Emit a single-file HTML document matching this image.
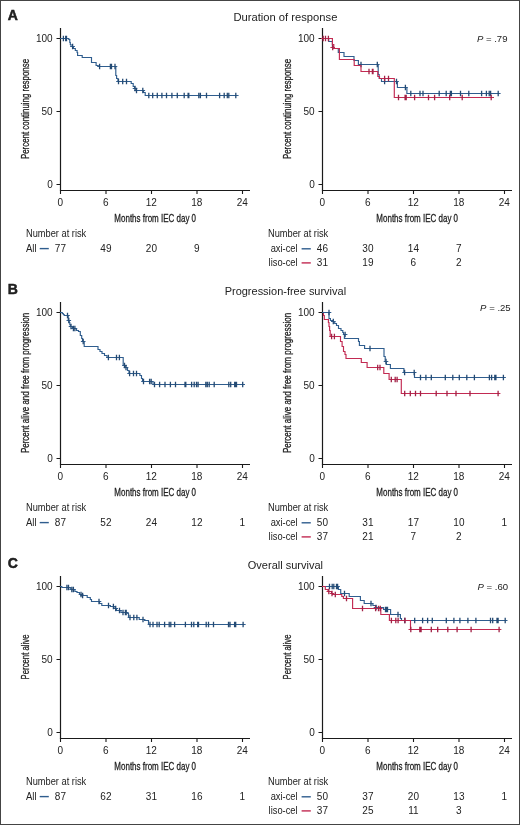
<!DOCTYPE html><html><head><meta charset="utf-8"><title>Kaplan-Meier curves</title><style>html,body{margin:0;padding:0;background:#fff}svg{display:block;will-change:transform}text{font-family:"Liberation Sans",sans-serif;fill:#222}</style></head><body>
<svg width="520" height="825" viewBox="0 0 520 825">
<rect x="0" y="0" width="520" height="825" fill="#fff"/>
<rect x="0.5" y="0.5" width="519" height="824" fill="none" stroke="#444" stroke-width="1"/>
<text x="7.8" y="19.7" font-size="14" font-weight="bold" stroke="#111" stroke-width="0.45">A</text>
<text x="285.4" y="20.7" font-size="11.2" text-anchor="middle" textLength="104" lengthAdjust="spacingAndGlyphs">Duration of response</text>
<path d="M60.5 28V191M60 190.5H250" stroke="#1a1a1a" stroke-width="1.2" fill="none"/>
<path d="M56.5 38.5H60M56.5 111.5H60M56.5 184.5H60M60.5 190V194M106.0 190V194M151.5 190V194M197.0 190V194M242.5 190V194" stroke="#1a1a1a" stroke-width="1.1" fill="none"/>
<text x="52.7" y="41.6" font-size="10" text-anchor="end">100</text>
<text x="52.7" y="114.6" font-size="10" text-anchor="end">50</text>
<text x="52.7" y="187.6" font-size="10" text-anchor="end">0</text>
<text x="60.2" y="205.7" font-size="10" text-anchor="middle">0</text>
<text x="105.7" y="205.7" font-size="10" text-anchor="middle">6</text>
<text x="151.2" y="205.7" font-size="10" text-anchor="middle">12</text>
<text x="196.7" y="205.7" font-size="10" text-anchor="middle">18</text>
<text x="242.2" y="205.7" font-size="10" text-anchor="middle">24</text>
<text x="155.2" y="222" font-size="11.3" text-anchor="middle" textLength="81.7" lengthAdjust="spacingAndGlyphs" stroke="#222" stroke-width="0.3">Months from IEC day 0</text>
<text transform="translate(29 109.0) rotate(-90)" x="0" y="0" font-size="11.5" text-anchor="middle" stroke="#222" stroke-width="0.3" textLength="100.2" lengthAdjust="spacingAndGlyphs">Percent continuing response</text>
<path d="M322.5 28V191M322 190.5H512" stroke="#1a1a1a" stroke-width="1.2" fill="none"/>
<path d="M318.5 38.5H322M318.5 111.5H322M318.5 184.5H322M322.5 190V194M368.0 190V194M413.5 190V194M459.0 190V194M504.5 190V194" stroke="#1a1a1a" stroke-width="1.1" fill="none"/>
<text x="314.7" y="41.6" font-size="10" text-anchor="end">100</text>
<text x="314.7" y="114.6" font-size="10" text-anchor="end">50</text>
<text x="314.7" y="187.6" font-size="10" text-anchor="end">0</text>
<text x="322.2" y="205.7" font-size="10" text-anchor="middle">0</text>
<text x="367.7" y="205.7" font-size="10" text-anchor="middle">6</text>
<text x="413.2" y="205.7" font-size="10" text-anchor="middle">12</text>
<text x="458.7" y="205.7" font-size="10" text-anchor="middle">18</text>
<text x="504.2" y="205.7" font-size="10" text-anchor="middle">24</text>
<text x="417.2" y="222" font-size="11.3" text-anchor="middle" textLength="81.7" lengthAdjust="spacingAndGlyphs" stroke="#222" stroke-width="0.3">Months from IEC day 0</text>
<text transform="translate(291 109.0) rotate(-90)" x="0" y="0" font-size="11.5" text-anchor="middle" stroke="#222" stroke-width="0.3" textLength="100.2" lengthAdjust="spacingAndGlyphs">Percent continuing response</text>
<text x="476.9" y="42.3" font-size="9.8" textLength="30.6" lengthAdjust="spacingAndGlyphs"><tspan font-style="italic">P</tspan> = .79</text>
<text x="7.8" y="294.4" font-size="14" font-weight="bold" stroke="#111" stroke-width="0.45">B</text>
<text x="285.4" y="295.4" font-size="11.2" text-anchor="middle" textLength="121.4" lengthAdjust="spacingAndGlyphs">Progression-free survival</text>
<path d="M60.5 302V465M60 464.5H250" stroke="#1a1a1a" stroke-width="1.2" fill="none"/>
<path d="M56.5 312.5H60M56.5 385.5H60M56.5 458.5H60M60.5 464V468M106.0 464V468M151.5 464V468M197.0 464V468M242.5 464V468" stroke="#1a1a1a" stroke-width="1.1" fill="none"/>
<text x="52.7" y="315.6" font-size="10" text-anchor="end">100</text>
<text x="52.7" y="388.6" font-size="10" text-anchor="end">50</text>
<text x="52.7" y="461.6" font-size="10" text-anchor="end">0</text>
<text x="60.2" y="479.7" font-size="10" text-anchor="middle">0</text>
<text x="105.7" y="479.7" font-size="10" text-anchor="middle">6</text>
<text x="151.2" y="479.7" font-size="10" text-anchor="middle">12</text>
<text x="196.7" y="479.7" font-size="10" text-anchor="middle">18</text>
<text x="242.2" y="479.7" font-size="10" text-anchor="middle">24</text>
<text x="155.2" y="496" font-size="11.3" text-anchor="middle" textLength="81.7" lengthAdjust="spacingAndGlyphs" stroke="#222" stroke-width="0.3">Months from IEC day 0</text>
<text transform="translate(29 383.0) rotate(-90)" x="0" y="0" font-size="11.5" text-anchor="middle" stroke="#222" stroke-width="0.3" textLength="140.2" lengthAdjust="spacingAndGlyphs">Percent alive and free from progression</text>
<path d="M322.5 302V465M322 464.5H512" stroke="#1a1a1a" stroke-width="1.2" fill="none"/>
<path d="M318.5 312.5H322M318.5 385.5H322M318.5 458.5H322M322.5 464V468M368.0 464V468M413.5 464V468M459.0 464V468M504.5 464V468" stroke="#1a1a1a" stroke-width="1.1" fill="none"/>
<text x="314.7" y="315.6" font-size="10" text-anchor="end">100</text>
<text x="314.7" y="388.6" font-size="10" text-anchor="end">50</text>
<text x="314.7" y="461.6" font-size="10" text-anchor="end">0</text>
<text x="322.2" y="479.7" font-size="10" text-anchor="middle">0</text>
<text x="367.7" y="479.7" font-size="10" text-anchor="middle">6</text>
<text x="413.2" y="479.7" font-size="10" text-anchor="middle">12</text>
<text x="458.7" y="479.7" font-size="10" text-anchor="middle">18</text>
<text x="504.2" y="479.7" font-size="10" text-anchor="middle">24</text>
<text x="417.2" y="496" font-size="11.3" text-anchor="middle" textLength="81.7" lengthAdjust="spacingAndGlyphs" stroke="#222" stroke-width="0.3">Months from IEC day 0</text>
<text transform="translate(291 383.0) rotate(-90)" x="0" y="0" font-size="11.5" text-anchor="middle" stroke="#222" stroke-width="0.3" textLength="140.2" lengthAdjust="spacingAndGlyphs">Percent alive and free from progression</text>
<text x="480.1" y="311.1" font-size="9.8" textLength="30.6" lengthAdjust="spacingAndGlyphs"><tspan font-style="italic">P</tspan> = .25</text>
<text x="7.8" y="568.2" font-size="14" font-weight="bold" stroke="#111" stroke-width="0.45">C</text>
<text x="285.4" y="569.2" font-size="11.2" text-anchor="middle" textLength="75.2" lengthAdjust="spacingAndGlyphs">Overall survival</text>
<path d="M60.5 576V739M60 738.5H250" stroke="#1a1a1a" stroke-width="1.2" fill="none"/>
<path d="M56.5 586.5H60M56.5 659.5H60M56.5 732.5H60M60.5 738V742M106.0 738V742M151.5 738V742M197.0 738V742M242.5 738V742" stroke="#1a1a1a" stroke-width="1.1" fill="none"/>
<text x="52.7" y="589.6" font-size="10" text-anchor="end">100</text>
<text x="52.7" y="662.6" font-size="10" text-anchor="end">50</text>
<text x="52.7" y="735.6" font-size="10" text-anchor="end">0</text>
<text x="60.2" y="753.7" font-size="10" text-anchor="middle">0</text>
<text x="105.7" y="753.7" font-size="10" text-anchor="middle">6</text>
<text x="151.2" y="753.7" font-size="10" text-anchor="middle">12</text>
<text x="196.7" y="753.7" font-size="10" text-anchor="middle">18</text>
<text x="242.2" y="753.7" font-size="10" text-anchor="middle">24</text>
<text x="155.2" y="770" font-size="11.3" text-anchor="middle" textLength="81.7" lengthAdjust="spacingAndGlyphs" stroke="#222" stroke-width="0.3">Months from IEC day 0</text>
<text transform="translate(29 657.0) rotate(-90)" x="0" y="0" font-size="11.5" text-anchor="middle" stroke="#222" stroke-width="0.3" textLength="44.9" lengthAdjust="spacingAndGlyphs">Percent alive</text>
<path d="M322.5 576V739M322 738.5H512" stroke="#1a1a1a" stroke-width="1.2" fill="none"/>
<path d="M318.5 586.5H322M318.5 659.5H322M318.5 732.5H322M322.5 738V742M368.0 738V742M413.5 738V742M459.0 738V742M504.5 738V742" stroke="#1a1a1a" stroke-width="1.1" fill="none"/>
<text x="314.7" y="589.6" font-size="10" text-anchor="end">100</text>
<text x="314.7" y="662.6" font-size="10" text-anchor="end">50</text>
<text x="314.7" y="735.6" font-size="10" text-anchor="end">0</text>
<text x="322.2" y="753.7" font-size="10" text-anchor="middle">0</text>
<text x="367.7" y="753.7" font-size="10" text-anchor="middle">6</text>
<text x="413.2" y="753.7" font-size="10" text-anchor="middle">12</text>
<text x="458.7" y="753.7" font-size="10" text-anchor="middle">18</text>
<text x="504.2" y="753.7" font-size="10" text-anchor="middle">24</text>
<text x="417.2" y="770" font-size="11.3" text-anchor="middle" textLength="81.7" lengthAdjust="spacingAndGlyphs" stroke="#222" stroke-width="0.3">Months from IEC day 0</text>
<text transform="translate(291 657.0) rotate(-90)" x="0" y="0" font-size="11.5" text-anchor="middle" stroke="#222" stroke-width="0.3" textLength="44.9" lengthAdjust="spacingAndGlyphs">Percent alive</text>
<text x="477.5" y="590.3" font-size="9.8" textLength="30.6" lengthAdjust="spacingAndGlyphs"><tspan font-style="italic">P</tspan> = .60</text>
<text x="26" y="237" font-size="10" textLength="60.2" lengthAdjust="spacingAndGlyphs">Number at risk</text>
<text x="26" y="251.6" font-size="10" textLength="10.6" lengthAdjust="spacingAndGlyphs">All</text>
<path d="M39.7 248.6H48.8" stroke="#2f5d8e" stroke-width="1.4"/>
<text x="60.4" y="251.6" font-size="10" text-anchor="middle">77</text>
<text x="105.9" y="251.6" font-size="10" text-anchor="middle">49</text>
<text x="151.4" y="251.6" font-size="10" text-anchor="middle">20</text>
<text x="196.9" y="251.6" font-size="10" text-anchor="middle">9</text>
<text x="26" y="511" font-size="10" textLength="60.2" lengthAdjust="spacingAndGlyphs">Number at risk</text>
<text x="26" y="525.6" font-size="10" textLength="10.6" lengthAdjust="spacingAndGlyphs">All</text>
<path d="M39.7 522.6H48.8" stroke="#2f5d8e" stroke-width="1.4"/>
<text x="60.4" y="525.6" font-size="10" text-anchor="middle">87</text>
<text x="105.9" y="525.6" font-size="10" text-anchor="middle">52</text>
<text x="151.4" y="525.6" font-size="10" text-anchor="middle">24</text>
<text x="196.9" y="525.6" font-size="10" text-anchor="middle">12</text>
<text x="242.4" y="525.6" font-size="10" text-anchor="middle">1</text>
<text x="26" y="785" font-size="10" textLength="60.2" lengthAdjust="spacingAndGlyphs">Number at risk</text>
<text x="26" y="799.6" font-size="10" textLength="10.6" lengthAdjust="spacingAndGlyphs">All</text>
<path d="M39.7 796.6H48.8" stroke="#2f5d8e" stroke-width="1.4"/>
<text x="60.4" y="799.6" font-size="10" text-anchor="middle">87</text>
<text x="105.9" y="799.6" font-size="10" text-anchor="middle">62</text>
<text x="151.4" y="799.6" font-size="10" text-anchor="middle">31</text>
<text x="196.9" y="799.6" font-size="10" text-anchor="middle">16</text>
<text x="242.4" y="799.6" font-size="10" text-anchor="middle">1</text>
<text x="268" y="237" font-size="10" textLength="60.2" lengthAdjust="spacingAndGlyphs">Number at risk</text>
<text x="297.6" y="251.6" font-size="10" text-anchor="end" textLength="26.9" lengthAdjust="spacingAndGlyphs">axi-cel</text>
<text x="297.6" y="265.9" font-size="10" text-anchor="end" textLength="29.0" lengthAdjust="spacingAndGlyphs">liso-cel</text>
<path d="M301.6 248.8H310.8" stroke="#2f5d8e" stroke-width="1.4"/>
<path d="M301.6 262.9H310.8" stroke="#c22a52" stroke-width="1.4"/>
<text x="322.4" y="251.6" font-size="10" text-anchor="middle">46</text>
<text x="367.9" y="251.6" font-size="10" text-anchor="middle">30</text>
<text x="413.4" y="251.6" font-size="10" text-anchor="middle">14</text>
<text x="458.9" y="251.6" font-size="10" text-anchor="middle">7</text>
<text x="322.4" y="265.9" font-size="10" text-anchor="middle">31</text>
<text x="367.9" y="265.9" font-size="10" text-anchor="middle">19</text>
<text x="413.4" y="265.9" font-size="10" text-anchor="middle">6</text>
<text x="458.9" y="265.9" font-size="10" text-anchor="middle">2</text>
<text x="268" y="511" font-size="10" textLength="60.2" lengthAdjust="spacingAndGlyphs">Number at risk</text>
<text x="297.6" y="525.6" font-size="10" text-anchor="end" textLength="26.9" lengthAdjust="spacingAndGlyphs">axi-cel</text>
<text x="297.6" y="539.9" font-size="10" text-anchor="end" textLength="29.0" lengthAdjust="spacingAndGlyphs">liso-cel</text>
<path d="M301.6 522.8H310.8" stroke="#2f5d8e" stroke-width="1.4"/>
<path d="M301.6 536.9H310.8" stroke="#c22a52" stroke-width="1.4"/>
<text x="322.4" y="525.6" font-size="10" text-anchor="middle">50</text>
<text x="367.9" y="525.6" font-size="10" text-anchor="middle">31</text>
<text x="413.4" y="525.6" font-size="10" text-anchor="middle">17</text>
<text x="458.9" y="525.6" font-size="10" text-anchor="middle">10</text>
<text x="504.4" y="525.6" font-size="10" text-anchor="middle">1</text>
<text x="322.4" y="539.9" font-size="10" text-anchor="middle">37</text>
<text x="367.9" y="539.9" font-size="10" text-anchor="middle">21</text>
<text x="413.4" y="539.9" font-size="10" text-anchor="middle">7</text>
<text x="458.9" y="539.9" font-size="10" text-anchor="middle">2</text>
<text x="268" y="785" font-size="10" textLength="60.2" lengthAdjust="spacingAndGlyphs">Number at risk</text>
<text x="297.6" y="799.6" font-size="10" text-anchor="end" textLength="26.9" lengthAdjust="spacingAndGlyphs">axi-cel</text>
<text x="297.6" y="813.9" font-size="10" text-anchor="end" textLength="29.0" lengthAdjust="spacingAndGlyphs">liso-cel</text>
<path d="M301.6 796.8H310.8" stroke="#2f5d8e" stroke-width="1.4"/>
<path d="M301.6 810.9H310.8" stroke="#c22a52" stroke-width="1.4"/>
<text x="322.4" y="799.6" font-size="10" text-anchor="middle">50</text>
<text x="367.9" y="799.6" font-size="10" text-anchor="middle">37</text>
<text x="413.4" y="799.6" font-size="10" text-anchor="middle">20</text>
<text x="458.9" y="799.6" font-size="10" text-anchor="middle">13</text>
<text x="504.4" y="799.6" font-size="10" text-anchor="middle">1</text>
<text x="322.4" y="813.9" font-size="10" text-anchor="middle">37</text>
<text x="367.9" y="813.9" font-size="10" text-anchor="middle">25</text>
<text x="413.4" y="813.9" font-size="10" text-anchor="middle">11</text>
<text x="458.9" y="813.9" font-size="10" text-anchor="middle">3</text>
<path d="M60.0 38.5H66.8V38.5H68.8V39.5H69.8V42.5H70.3V44.5H71.0V46.5H73.4V48.5H75.3V50.5H77.1V52.5H77.6V55.5H82.2V57.5H91.5V62.5H96.1V65.5H98.2V66.5H115.8V75.5H116.6V78.5H118.0V81.5H131.2V83.5H133.2V86.5H134.7V88.5H136.2V90.5H143.5V92.5H145.2V95.5H238.5" fill="none" stroke="#2f5d8e" stroke-width="1.15"/>
<path d="M61.1 38.5H65.7M63.4 38.5H68.0M64.2 38.5H68.8M70.3 46.5H74.9M97.3 66.5H101.9M108.1 66.5H112.7M109.2 66.5H113.8M112.7 66.5H117.3M116.2 81.5H120.8M120.4 81.5H125.0M124.2 81.5H128.8M132.7 88.5H137.3M134.2 90.5H138.8M140.5 90.5H145.1M146.5 95.5H151.1M150.4 95.5H155.0M155.0 95.5H159.6M159.6 95.5H164.2M164.2 95.5H168.8M169.6 95.5H174.2M175.0 95.5H179.6M181.9 95.5H186.5M185.8 95.5H190.4M186.5 95.5H191.1M196.5 95.5H201.1M198.1 95.5H202.7M204.2 95.5H208.8M217.3 95.5H221.9M221.9 95.5H226.5M225.0 95.5H229.6M226.5 95.5H231.1M233.5 95.5H238.1" fill="none" stroke="#2f5d8e" stroke-width="1.15"/>
<path d="M63.4 35.7V41.3M65.7 35.7V41.3M66.5 35.7V41.3M72.6 43.7V49.3M99.6 63.7V69.3M110.4 63.7V69.3M111.5 63.7V69.3M115.0 63.7V69.3M118.5 78.7V84.3M122.7 78.7V84.3M126.5 78.7V84.3M135.0 85.7V91.3M136.5 87.7V93.3M142.8 87.7V93.3M148.8 92.7V98.3M152.7 92.7V98.3M157.3 92.7V98.3M161.9 92.7V98.3M166.5 92.7V98.3M171.9 92.7V98.3M177.3 92.7V98.3M184.2 92.7V98.3M188.1 92.7V98.3M188.8 92.7V98.3M198.8 92.7V98.3M200.4 92.7V98.3M206.5 92.7V98.3M219.6 92.7V98.3M224.2 92.7V98.3M227.3 92.7V98.3M228.8 92.7V98.3M235.8 92.7V98.3" fill="none" stroke="#244a73" stroke-width="1.3"/>
<path d="M60.0 312.5H62.3V313.5H63.3V314.5H64.2V315.5H68.2V320.5H69.2V322.5H69.8V324.5H70.3V326.5H72.5V328.5H76.5V330.5H78.5V331.5H80.3V335.5H81.7V338.5H82.5V341.5H84.2V346.5H98.0V349.5H100.0V351.5H102.0V353.5H104.5V355.5H107.0V357.5H123.2V365.5H125.0V367.5H127.5V370.5H129.0V373.5H139.9V375.5H141.5V378.5H142.5V381.5H153.0V384.5H243.5" fill="none" stroke="#2f5d8e" stroke-width="1.15"/>
<path d="M65.2 315.5H69.8M66.5 320.5H71.1M68.7 326.5H73.3M71.1 328.5H75.7M72.6 328.5H77.2M80.9 341.5H85.5M106.1 357.5H110.7M114.2 357.5H118.8M117.1 357.5H121.7M122.2 365.5H126.8M123.7 367.5H128.3M127.3 373.5H131.9M131.2 373.5H135.8M134.2 373.5H138.8M141.2 381.5H145.8M147.3 381.5H151.9M148.9 381.5H153.5M152.2 384.5H156.8M157.3 384.5H161.9M162.7 384.5H167.3M168.1 384.5H172.7M173.2 384.5H177.8M182.7 384.5H187.3M183.5 384.5H188.1M189.3 384.5H193.9M191.9 384.5H196.5M194.2 384.5H198.8M195.8 384.5H200.4M203.5 384.5H208.1M205.0 384.5H209.6M206.9 384.5H211.5M211.9 384.5H216.5M226.5 384.5H231.1M228.4 384.5H233.0M232.4 384.5H237.0M233.5 384.5H238.1M234.2 384.5H238.8M240.4 384.5H245.0" fill="none" stroke="#2f5d8e" stroke-width="1.15"/>
<path d="M67.5 312.7V318.3M68.8 317.7V323.3M71.0 323.7V329.3M73.4 325.7V331.3M74.9 325.7V331.3M83.2 338.7V344.3M108.4 354.7V360.3M116.5 354.7V360.3M119.4 354.7V360.3M124.5 362.7V368.3M126.0 364.7V370.3M129.6 370.7V376.3M133.5 370.7V376.3M136.5 370.7V376.3M143.5 378.7V384.3M149.6 378.7V384.3M151.2 378.7V384.3M154.5 381.7V387.3M159.6 381.7V387.3M165.0 381.7V387.3M170.4 381.7V387.3M175.5 381.7V387.3M185.0 381.7V387.3M185.8 381.7V387.3M191.6 381.7V387.3M194.2 381.7V387.3M196.5 381.7V387.3M198.1 381.7V387.3M205.8 381.7V387.3M207.3 381.7V387.3M209.2 381.7V387.3M214.2 381.7V387.3M228.8 381.7V387.3M230.7 381.7V387.3M234.7 381.7V387.3M235.8 381.7V387.3M236.5 381.7V387.3M242.7 381.7V387.3" fill="none" stroke="#244a73" stroke-width="1.3"/>
<path d="M60.0 586.5H61.8V587.5H70.3V589.5H74.9V591.5H77.0V592.5H79.5V594.5H82.6V595.5H87.2V597.5H90.3V599.5H91.5V601.5H99.5V603.5H101.8V605.5H110.3V606.5H114.0V608.5H116.5V610.5H121.0V612.5H127.7V613.5H128.5V617.5H139.2V619.5H144.6V620.5H148.5V624.5H245.4" fill="none" stroke="#2f5d8e" stroke-width="1.15"/>
<path d="M64.6 587.5H69.2M66.2 587.5H70.8M69.5 589.5H74.1M71.1 589.5H75.7M78.7 594.5H83.3M80.3 595.5H84.9M96.7 601.5H101.3M106.2 605.5H110.8M111.1 606.5H115.7M113.4 608.5H118.0M117.2 610.5H121.8M120.7 612.5H125.3M123.1 612.5H127.7M123.9 612.5H128.5M127.7 617.5H132.3M131.5 617.5H136.1M134.6 617.5H139.2M140.7 619.5H145.3M147.7 624.5H152.3M150.7 624.5H155.3M154.7 624.5H159.3M156.9 624.5H161.5M162.3 624.5H166.9M166.9 624.5H171.5M168.5 624.5H173.1M172.3 624.5H176.9M183.1 624.5H187.7M189.2 624.5H193.8M191.5 624.5H196.1M195.4 624.5H200.0M196.2 624.5H200.8M203.9 624.5H208.5M206.2 624.5H210.8M211.2 624.5H215.8M226.2 624.5H230.8M227.7 624.5H232.3M232.3 624.5H236.9M233.4 624.5H238.0M240.8 624.5H245.4" fill="none" stroke="#2f5d8e" stroke-width="1.15"/>
<path d="M66.9 584.7V590.3M68.5 584.7V590.3M71.8 586.7V592.3M73.4 586.7V592.3M81.0 591.7V597.3M82.6 592.7V598.3M99.0 598.7V604.3M108.5 602.7V608.3M113.4 603.7V609.3M115.7 605.7V611.3M119.5 607.7V613.3M123.0 609.7V615.3M125.4 609.7V615.3M126.2 609.7V615.3M130.0 614.7V620.3M133.8 614.7V620.3M136.9 614.7V620.3M143.0 616.7V622.3M150.0 621.7V627.3M153.0 621.7V627.3M157.0 621.7V627.3M159.2 621.7V627.3M164.6 621.7V627.3M169.2 621.7V627.3M170.8 621.7V627.3M174.6 621.7V627.3M185.4 621.7V627.3M191.5 621.7V627.3M193.8 621.7V627.3M197.7 621.7V627.3M198.5 621.7V627.3M206.2 621.7V627.3M208.5 621.7V627.3M213.5 621.7V627.3M228.5 621.7V627.3M230.0 621.7V627.3M234.6 621.7V627.3M235.7 621.7V627.3M243.1 621.7V627.3" fill="none" stroke="#244a73" stroke-width="1.3"/>
<path d="M322.0 38.5H328.7V41.5H332.4V46.5H333.5V48.5H338.3V52.5H344.0V56.5H354.0V60.5H358.4V64.5H378.2V74.5H379.2V78.5H381.5V81.5H397.4V87.5H406.9V93.5H500.2" fill="none" stroke="#2f5d8e" stroke-width="1.15"/>
<path d="M358.7 64.5H363.3M375.0 64.5H379.6M382.3 81.5H386.9M394.2 81.5H398.8M403.1 87.5H407.7M408.5 93.5H413.1M417.7 93.5H422.3M420.7 93.5H425.3M436.9 93.5H441.5M443.9 93.5H448.5M448.1 93.5H452.7M449.1 93.5H453.7M458.2 93.5H462.8M466.5 93.5H471.1M479.3 93.5H483.9M484.1 93.5H488.7M486.9 93.5H491.5M488.3 93.5H492.9M495.9 93.5H500.5" fill="none" stroke="#2f5d8e" stroke-width="1.15"/>
<path d="M361.0 61.7V67.3M377.3 61.7V67.3M384.6 78.7V84.3M396.5 78.7V84.3M405.4 84.7V90.3M410.8 90.7V96.3M420.0 90.7V96.3M423.0 90.7V96.3M439.2 90.7V96.3M446.2 90.7V96.3M450.4 90.7V96.3M451.4 90.7V96.3M460.5 90.7V96.3M468.8 90.7V96.3M481.6 90.7V96.3M486.4 90.7V96.3M489.2 90.7V96.3M490.6 90.7V96.3M498.2 90.7V96.3" fill="none" stroke="#244a73" stroke-width="1.3"/>
<path d="M322.0 38.5H332.4V44.5H333.8V48.5H339.4V59.5H354.2V65.5H361.0V71.5H377.8V76.5H379.5V78.5H394.3V97.5H494.0" fill="none" stroke="#c22a52" stroke-width="1.15"/>
<path d="M320.9 38.5H325.5M323.2 38.5H327.8M326.1 38.5H330.7M330.4 47.5H335.0M366.7 71.5H371.3M370.1 71.5H374.7M370.7 71.5H375.3M382.3 78.5H386.9M386.2 78.5H390.8M396.2 97.5H400.8M402.8 97.5H407.4M403.9 97.5H408.5M412.3 97.5H416.9M426.2 97.5H430.8M432.3 97.5H436.9M447.4 97.5H452.0M459.9 97.5H464.5M488.9 97.5H493.5" fill="none" stroke="#c22a52" stroke-width="1.15"/>
<path d="M323.2 35.7V41.3M325.5 35.7V41.3M328.4 35.7V41.3M332.7 44.7V50.3M369.0 68.7V74.3M372.4 68.7V74.3M373.0 68.7V74.3M384.6 75.7V81.3M388.5 75.7V81.3M398.5 94.7V100.3M405.1 94.7V100.3M406.2 94.7V100.3M414.6 94.7V100.3M428.5 94.7V100.3M434.6 94.7V100.3M449.7 94.7V100.3M462.2 94.7V100.3M491.2 94.7V100.3" fill="none" stroke="#a22146" stroke-width="1.3"/>
<path d="M322.0 312.5H323.5V315.5H324.3V319.5H328.4V322.5H329.0V326.5H329.6V330.5H330.2V336.5H340.5V341.5H342.1V346.5H343.5V351.5H345.0V354.5H346.0V358.5H361.3V362.5H367.1V367.5H383.8V373.5H389.1V379.5H401.3V393.5H499.6" fill="none" stroke="#c22a52" stroke-width="1.15"/>
<path d="M329.3 336.5H333.9M332.1 336.5H336.7M375.4 367.5H380.0M377.7 367.5H382.3M389.0 379.5H393.6M392.9 379.5H397.5M394.8 379.5H399.4M402.4 393.5H407.0M408.0 393.5H412.6M413.2 393.5H417.8M418.2 393.5H422.8M433.9 393.5H438.5M444.7 393.5H449.3M453.7 393.5H458.3M467.7 393.5H472.3M495.8 393.5H500.4" fill="none" stroke="#c22a52" stroke-width="1.15"/>
<path d="M331.6 333.7V339.3M334.4 333.7V339.3M377.7 364.7V370.3M380.0 364.7V370.3M391.3 376.7V382.3M395.2 376.7V382.3M397.1 376.7V382.3M404.7 390.7V396.3M410.3 390.7V396.3M415.5 390.7V396.3M420.5 390.7V396.3M436.2 390.7V396.3M447.0 390.7V396.3M456.0 390.7V396.3M470.0 390.7V396.3M498.1 390.7V396.3" fill="none" stroke="#a22146" stroke-width="1.3"/>
<path d="M322.0 312.5H329.0V318.5H330.4V320.5H332.4V321.5H334.7V323.5H336.5V325.5H338.5V328.5H341.0V330.5H342.8V332.5H343.6V334.5H344.4V338.5H358.5V341.5H359.4V345.5H364.6V348.5H384.0V356.5H385.2V361.5H386.3V364.5H390.4V368.5H403.9V372.5H414.5V377.5H505.6" fill="none" stroke="#2f5d8e" stroke-width="1.15"/>
<path d="M326.7 312.5H331.3M331.0 321.5H335.6M342.8 334.5H347.4M367.7 348.5H372.3M383.7 361.5H388.3M402.3 372.5H406.9M411.9 372.5H416.5M418.2 377.5H422.8M423.6 377.5H428.2M429.0 377.5H433.6M443.0 377.5H447.6M450.5 377.5H455.1M457.0 377.5H461.6M464.5 377.5H469.1M472.1 377.5H476.7M487.1 377.5H491.7M489.3 377.5H493.9M492.5 377.5H497.1M493.6 377.5H498.2M501.1 377.5H505.7" fill="none" stroke="#2f5d8e" stroke-width="1.15"/>
<path d="M329.0 309.7V315.3M333.3 318.7V324.3M345.1 331.7V337.3M370.0 345.7V351.3M386.0 358.7V364.3M404.6 369.7V375.3M414.2 369.7V375.3M420.5 374.7V380.3M425.9 374.7V380.3M431.3 374.7V380.3M445.3 374.7V380.3M452.8 374.7V380.3M459.3 374.7V380.3M466.8 374.7V380.3M474.4 374.7V380.3M489.4 374.7V380.3M491.6 374.7V380.3M494.8 374.7V380.3M495.9 374.7V380.3M503.4 374.7V380.3" fill="none" stroke="#244a73" stroke-width="1.3"/>
<path d="M322.0 586.5H338.4V589.5H340.7V593.5H349.2V596.5H360.4V600.5H364.2V603.5H372.9V605.5H375.8V607.5H383.6V609.5H390.6V614.5H400.4V618.5H401.5V620.5H506.7" fill="none" stroke="#2f5d8e" stroke-width="1.15"/>
<path d="M327.2 586.5H331.8M329.9 586.5H334.5M331.5 586.5H336.1M334.2 586.5H338.8M335.3 586.5H339.9M342.2 593.5H346.8M368.7 603.5H373.3M373.7 607.5H378.3M383.2 609.5H387.8M384.2 609.5H388.8M385.2 609.5H389.8M395.7 614.5H400.3M402.4 620.5H407.0M412.4 620.5H417.0M420.3 620.5H424.9M425.3 620.5H429.9M430.0 620.5H434.6M444.0 620.5H448.6M451.6 620.5H456.2M457.6 620.5H462.2M465.6 620.5H470.2M473.6 620.5H478.2M488.2 620.5H492.8M490.4 620.5H495.0M494.7 620.5H499.3M495.8 620.5H500.4M502.9 620.5H507.5" fill="none" stroke="#2f5d8e" stroke-width="1.15"/>
<path d="M329.5 583.7V589.3M332.2 583.7V589.3M333.8 583.7V589.3M336.5 583.7V589.3M337.6 583.7V589.3M344.5 590.7V596.3M371.0 600.7V606.3M376.0 604.7V610.3M385.5 606.7V612.3M386.5 606.7V612.3M387.5 606.7V612.3M398.0 611.7V617.3M404.7 617.7V623.3M414.7 617.7V623.3M422.6 617.7V623.3M427.6 617.7V623.3M432.3 617.7V623.3M446.3 617.7V623.3M453.9 617.7V623.3M459.9 617.7V623.3M467.9 617.7V623.3M475.9 617.7V623.3M490.5 617.7V623.3M492.7 617.7V623.3M497.0 617.7V623.3M498.1 617.7V623.3M505.2 617.7V623.3" fill="none" stroke="#244a73" stroke-width="1.3"/>
<path d="M322.0 586.5H325.3V589.5H328.0V591.5H331.5V593.5H332.6V594.5H341.8V596.5H343.4V598.5H352.6V608.5H380.8V614.5H389.4V620.5H410.5V629.5H500.2" fill="none" stroke="#c22a52" stroke-width="1.15"/>
<path d="M326.5 591.5H331.1M329.7 593.5H334.3M333.0 594.5H337.6M344.2 598.5H348.8M360.2 608.5H364.8M373.3 608.5H377.9M376.2 608.5H380.8M378.0 608.5H382.6M389.1 620.5H393.7M393.5 620.5H398.1M395.8 620.5H400.4M402.7 620.5H407.3M408.5 629.5H413.1M417.5 629.5H422.1M418.8 629.5H423.4M429.0 629.5H433.6M435.4 629.5H440.0M445.5 629.5H450.1M454.8 629.5H459.4M468.8 629.5H473.4M496.8 629.5H501.4" fill="none" stroke="#c22a52" stroke-width="1.15"/>
<path d="M328.8 588.7V594.3M332.0 590.7V596.3M335.3 591.7V597.3M346.5 595.7V601.3M362.5 605.7V611.3M375.6 605.7V611.3M378.5 605.7V611.3M380.3 605.7V611.3M391.4 617.7V623.3M395.8 617.7V623.3M398.1 617.7V623.3M405.0 617.7V623.3M410.8 626.7V632.3M419.8 626.7V632.3M421.1 626.7V632.3M431.3 626.7V632.3M437.7 626.7V632.3M447.8 626.7V632.3M457.1 626.7V632.3M471.1 626.7V632.3M499.1 626.7V632.3" fill="none" stroke="#a22146" stroke-width="1.3"/>
</svg></body></html>
